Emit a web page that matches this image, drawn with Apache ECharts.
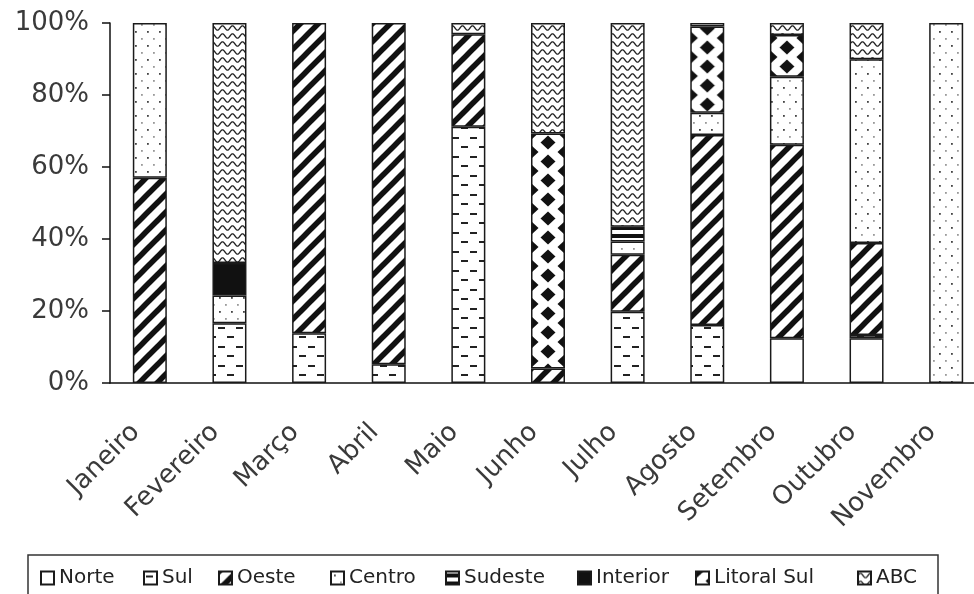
<!DOCTYPE html>
<html><head><meta charset="utf-8">
<script src="https://cdn.jsdelivr.net/npm/echarts@6/dist/echarts.min.js"></script>
<style>html,body{margin:0;padding:0;background:#fff}#c{width:974px;height:594px}</style>
</head><body><div id="c"></div>
<script>
// ---- data ----
const categories = ['Janeiro','Fevereiro','Março','Abril','Maio','Junho','Julho','Agosto','Setembro','Outubro','Novembro'];
const seriesNames = ['Norte','Sul','Oeste','Centro','Sudeste','Interior','Litoral Sul','ABC'];
const norte      = [null, null, null, null, null, null, null, null, 12.4, 12.4, null];
const sul        = [null, 16.6, 13.8, 5.2, 71.2, null, 19.8, 16.1, null, 0.9, null];
const oeste      = [57, null, 86.2, 94.8, 25.7, 4, 15.8, 52.8, 53.8, 25.6, null];
const centro     = [43, 7.7, null, null, null, null, 3.7, 6.2, 18.9, 51, 100];
const sudeste    = [null, null, null, null, null, null, 4.1, null, null, null, null];
const interior   = [null, 9, null, null, null, null, null, null, null, null, null];
const litoralSul = [null, null, null, null, null, 65.3, null, 23.9, 11.6, null, null];
const abc        = [null, 66.7, null, null, 3.1, 30.7, 56.6, 1, 3.3, 10.1, null];
const yTickValues = [0, 20, 40, 60, 80, 100];

const values = [norte, sul, oeste, centro, sudeste, interior, litoralSul, abc];

// ---- patterns ----
function tileCanvas(w, h, draw) {
  const c = document.createElement('canvas');
  c.width = w; c.height = h;
  const g = c.getContext('2d');
  g.fillStyle = '#fff'; g.fillRect(0, 0, w, h);
  draw(g, w, h);
  return c;
}
function tile(w, h, draw) { return { image: tileCanvas(w, h, draw), repeat: 'repeat' }; }
function dia(g, cx, cy, rx, ry) {
  g.beginPath(); g.moveTo(cx, cy - ry); g.lineTo(cx + rx, cy); g.lineTo(cx, cy + ry); g.lineTo(cx - rx, cy); g.closePath(); g.fill();
}
const DIA_W = 34;
const diamondCanvas = tileCanvas(DIA_W, 19, g => { g.fillStyle = '#111';
  const rx = 7.5, ry = 7;
  dia(g, 17, 9.5, rx, ry); dia(g, 0, 0, rx, ry); dia(g, 34, 0, rx, ry); dia(g, 0, 19, rx, ry); dia(g, 34, 19, rx, ry); });
const fills = [
  '#ffffff',
  tile(18, 19, g => { g.fillStyle = '#222'; g.fillRect(2, 4, 7, 2); g.fillRect(11, 13, 7, 2); }),
  tile(18, 18, g => { g.strokeStyle = '#111'; g.lineWidth = 5.5;
    for (const k of [-1, 0, 1]) { g.beginPath(); g.moveTo(k * 18 - 3, 21); g.lineTo(k * 18 + 21, -3); g.stroke(); } }),
  tile(12, 14, g => { g.fillStyle = '#444'; g.fillRect(3, 3, 1.8, 1.8); g.fillStyle = '#999'; g.fillRect(9, 10, 1.8, 1.8); }),
  tile(4, 8, g => { g.fillStyle = '#111'; g.fillRect(0, 2, 4, 4); }),
  '#111111',
  { image: diamondCanvas, repeat: 'repeat' },
  tile(10, 8, g => { g.strokeStyle = '#222'; g.lineWidth = 1.3; g.beginPath();
    for (let x = -1; x <= 11; x += 0.5) { const y = 4 - 2.2 * Math.sin(2 * Math.PI * x / 10); if (x === -1) g.moveTo(x, y); else g.lineTo(x, y); }
    g.stroke(); })
];

const legendLeft = [40, 143, 218, 330, 445, 577, 695, 857];
const FONT = 'DejaVu Sans';
const LITORAL = seriesNames.indexOf('Litoral Sul');

const chart = echarts.init(document.getElementById('c'), null, { renderer: 'canvas' });
chart.setOption({
  animation: false,
  backgroundColor: '#fff',
  grid: { left: 110, top: 23, width: 876, height: 360, containLabel: false, outerBoundsMode: 'none' },
  xAxis: {
    type: 'category', data: categories,
    axisLine: { lineStyle: { color: '#111', width: 1.5 } },
    axisTick: { length: 9, lineStyle: { color: '#111', width: 1.5 } },
    axisLabel: { interval: 0, rotate: 45, fontFamily: FONT, fontSize: 26, color: '#3a3a3a', margin: 31, padding: [0, 20, 0, 0] },
    splitLine: { show: false }
  },
  yAxis: {
    type: 'value', min: yTickValues[0], max: yTickValues[yTickValues.length - 1], interval: yTickValues[1] - yTickValues[0],
    axisLine: { show: true, lineStyle: { color: '#111', width: 1.5 } },
    axisTick: { show: true, length: 8, lineStyle: { color: '#111', width: 1.5 } },
    axisLabel: { fontFamily: FONT, fontSize: 26, color: '#3a3a3a', margin: 21, formatter: v => v + '%' },
    splitLine: { show: false }
  },
  legend: seriesNames.map((n, i) => ({
    data: [n], left: legendLeft[i], top: 568, padding: 0, itemWidth: 13, itemHeight: 13,
    selectedMode: false, icon: 'rect',
    textStyle: { fontFamily: FONT, fontSize: 20, color: '#222' }
  })),
  graphic: [{ type: 'rect', shape: { x: 28, y: 555, width: 910, height: 60 }, style: { fill: 'none', stroke: '#333', lineWidth: 1.5 }, silent: true }],
  series: seriesNames.map((n, i) => ({
    name: n, type: 'bar', stack: 'total', barWidth: 34, data: values[i],
    itemStyle: { color: fills[i], borderColor: '#1a1a1a', borderWidth: 1.5 },
    emphasis: { disabled: true }
  }))
});

// align the diamond pattern with the centre of each bar (via the library's scale)
const litData = litoralSul.map((v, i) => {
  if (v == null) return v;
  const p = chart.convertToPixel({ seriesIndex: LITORAL }, [i, 0]);
  return { value: v, itemStyle: { color: { image: diamondCanvas, repeat: 'repeat', x: p[0] - DIA_W / 2, y: 0 } } };
});
const upd = seriesNames.map(() => ({}));
upd[LITORAL] = { data: litData };
chart.setOption({ series: upd });
</script>
</body></html>
